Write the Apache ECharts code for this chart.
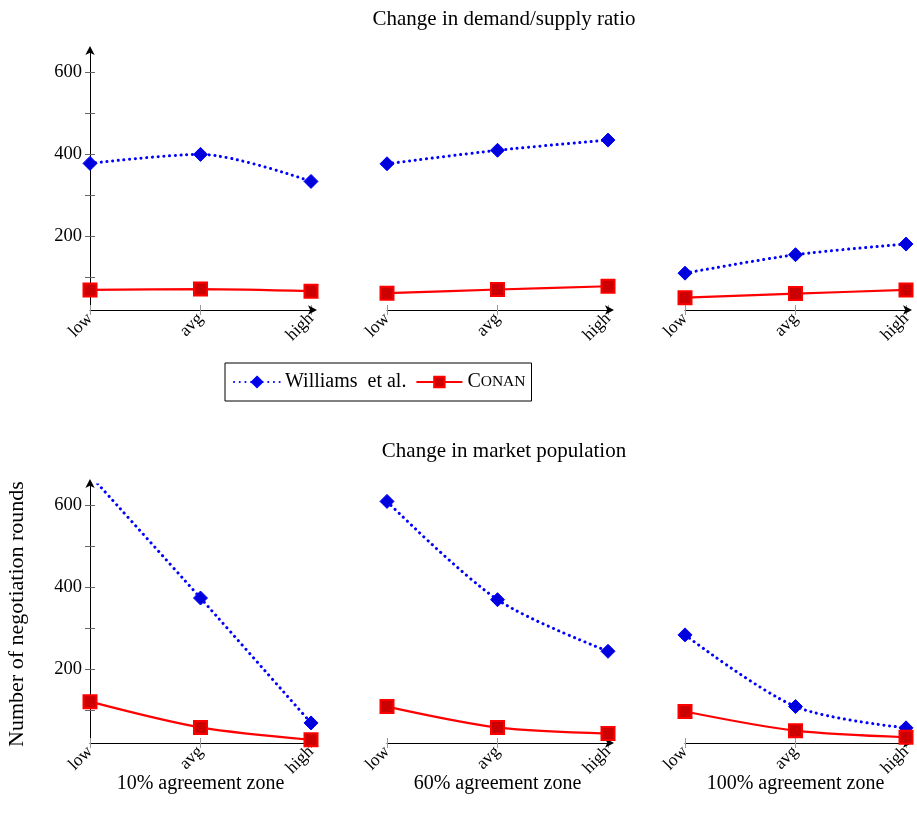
<!DOCTYPE html>
<html>
<head>
<meta charset="utf-8">
<script src="https://cdn.jsdelivr.net/npm/echarts@6/dist/echarts.min.js"></script>
<style>html,body{margin:0;padding:0;background:#fff}#c{width:917px;height:824px}</style>
</head>
<body>
<div id="c"></div>
<script>
var categories = ['low', 'avg', 'high'];
var zoneLabels = ['10% agreement zone', '60% agreement zone', '100% agreement zone'];
var rowTitles = ['Change in demand/supply ratio', 'Change in market population'];
var yTickValues = [100, 200, 300, 400, 500, 600];
var yTickLabels = [200, 400, 600];
var demandWilliams = [[378, 400, 334], [377, 410, 435], [110, 155, 181]];
var demandConan = [[69, 71, 66], [61, 70, 78], [50, 60, 69]];
var popWilliams = [[674, 374, 69], [610, 370, 244], [284, 109, 57]];
var popConan = [[121, 58, 28], [109, 58, 43], [97, 50, 34]];

var FONT = 'Liberation Serif';
var lefts = [90, 387, 685];
var tops = [52, 485];
var W = 221, H = 258;
var YMIN = 20, YMAX = 650;

var grids = [], xAxes = [], yAxes = [], series = [];
var rowsW = [demandWilliams, popWilliams];
var rowsC = [demandConan, popConan];

for (var r = 0; r < 2; r++) {
  for (var c = 0; c < 3; c++) {
    var g = grids.length;
    grids.push({left: lefts[c], top: tops[r], width: W, height: H, containLabel: false});
    xAxes.push({
      type: 'category', gridIndex: g, data: categories, boundaryGap: false, position: 'bottom',
      axisLine: {show: true, onZero: false, symbol: ['none', 'arrow'], symbolSize: [7, 9], symbolOffset: [0, 6], lineStyle: {color: '#000', width: 1}},
      axisTick: {show: true, alignWithLabel: true, length: 5, lineStyle: {color: '#999'}},
      axisLabel: {rotate: 45, fontFamily: FONT, fontSize: 17.5, color: '#000', margin: 6},
      splitLine: {show: false},
      name: r === 1 ? zoneLabels[c] : '', nameLocation: 'middle', nameGap: 31, nameMoveOverlap: false,
      nameTextStyle: {fontFamily: FONT, fontSize: 20, color: '#000', verticalAlign: 'top', padding: [0, 0, 0, 0]}
    });
    xAxes.push({
      type: 'category', gridIndex: g, data: categories, boundaryGap: false, position: 'bottom',
      axisLine: {show: false, onZero: false},
      axisTick: {show: true, inside: true, alignWithLabel: true, length: 5, lineStyle: {color: '#999'}},
      axisLabel: {show: false}, splitLine: {show: false}
    });
    var first = (c === 0);
    yAxes.push({
      type: 'value', gridIndex: g, min: YMIN, max: YMAX, position: 'left',
      axisLine: {show: first, symbol: ['none', 'arrow'], symbolSize: [7, 9], symbolOffset: [0, 6], lineStyle: {color: '#000', width: 1}},
      axisTick: {show: first, length: 5, customValues: yTickValues, lineStyle: {color: '#666'}},
      axisLabel: {show: first, fontFamily: FONT, fontSize: 18.5, color: '#000', margin: 8, customValues: yTickLabels},
      splitLine: {show: false},
      name: (first && r === 1) ? 'Number of negotiation rounds' : '',
      nameLocation: 'middle', nameGap: 62, nameRotate: 90, nameMoveOverlap: false,
      nameTextStyle: {fontFamily: FONT, fontSize: 22, color: '#000'}
    });
    var yi = yAxes.length - 1;
    series.push({
      name: 'Williams  et al.', type: 'line', xAxisIndex: xAxes.length - 2, yAxisIndex: yi,
      data: rowsW[r][c], smooth: 0.3, clip: true,
      symbol: 'diamond', symbolSize: 14,
      lineStyle: {color: '#0000ff', width: 3, type: [0.1, 5.6], cap: 'round'},
      itemStyle: {color: '#0000dd', borderColor: '#0000ff', borderWidth: 1}
    });
    series.push({
      name: 'CONAN', type: 'line', xAxisIndex: xAxes.length - 2, yAxisIndex: yi,
      data: rowsC[r][c], smooth: 0.3, clip: true,
      symbol: 'rect', symbolSize: 13,
      lineStyle: {color: '#ff0000', width: 2.2},
      itemStyle: {color: '#cc0000', borderColor: '#ff0000', borderWidth: 2}
    });
  }
}
[0, 3].forEach(function (g) {
  yAxes.push({
    type: 'value', gridIndex: g, min: YMIN, max: YMAX, position: 'left',
    axisLine: {show: false}, axisTick: {show: true, inside: true, length: 5, customValues: yTickValues, lineStyle: {color: '#666'}},
    axisLabel: {show: false}, splitLine: {show: false}
  });
});

var option = {
  animation: false,
  backgroundColor: '#fff',
  title: [
    {text: rowTitles[0], left: 499, top: 4, textAlign: 'center', textStyle: {fontFamily: FONT, fontSize: 21, fontWeight: 'normal', color: '#000'}},
    {text: rowTitles[1], left: 499, top: 436, textAlign: 'center', textStyle: {fontFamily: FONT, fontSize: 21, fontWeight: 'normal', color: '#000'}}
  ],
  legend: {
    left: 225, top: 363, orient: 'horizontal',
    data: ['Williams  et al.', 'CONAN'],
    itemWidth: 46, itemHeight: 13, itemGap: 9,
    padding: [9, 6, 9, 8],
    borderColor: '#000', borderWidth: 1, borderRadius: 0,
    textStyle: {fontFamily: FONT, fontSize: 20, color: '#000',
      rich: {big: {fontFamily: FONT, fontSize: 20, color: '#000'}, small: {fontFamily: FONT, fontSize: 15.5, color: '#000'}}},
    formatter: function (n) {
      if (n === 'CONAN') return '{big|C}{small|ONAN}';
      return n;
    }
  },
  grid: grids,
  xAxis: xAxes,
  yAxis: yAxes,
  series: series
};
var chart = echarts.init(document.getElementById('c'), null, {renderer: 'canvas'});
chart.setOption(option);
</script>
</body>
</html>
